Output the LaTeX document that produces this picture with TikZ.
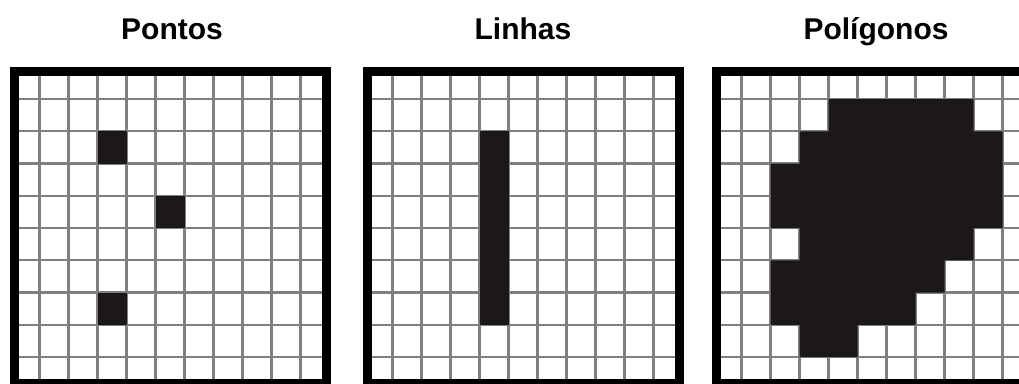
\documentclass[tikz,border=0pt]{standalone}
\usepackage{fontspec}
\setmainfont{Liberation Sans}
\definecolor{cellInk}{RGB}{28,24,23}
\definecolor{gridGray}{RGB}{128,128,128}
\begin{document}
\begin{tikzpicture}[x=0.75pt,y=-0.75pt]
\tikzset{
    rasterTitle/.style={anchor=base,inner sep=0pt,font=\bfseries\fontsize{22.5}{27}\selectfont},
    rasterLine/.style={draw=gridGray,line width=1.7pt},
    rasterFrame/.style={draw=black,line width=6.75pt},
    rasterCell/.style={fill=cellInk},
    rasterGrid/.style={shift={(#1+25.5,99)},x=21.75pt,y=-24.1875pt},
}
\useasboundingbox (0,0) rectangle (1019,383);
\clip (0,0) rectangle (1019,383);

\node[rasterTitle] (tPontos) at (172,39) {Pontos};
\node[rasterTitle] (tLinhas) at (523,39) {Linhas};
\node[rasterTitle] (tPoligonos) at (876,39) {Polígonos};

% grid lines of the three panels
\foreach \L in {14,367,716} {
  \begin{scope}[rasterGrid=\L]
    \foreach \i in {0,...,9} \draw[rasterLine] (\i,-0.75) -- (\i,9);
    \foreach \j in {0,...,8} \draw[rasterLine] (-0.75,\j) -- (9.75,\j);
  \end{scope}
}

% pontos
\begin{scope}[rasterGrid=14]
  \fill[rasterCell] (2,1) rectangle (3,2);
  \fill[rasterCell] (4,3) rectangle (5,4);
  \fill[rasterCell] (2,6) rectangle (3,7);
\end{scope}

% linhas
\begin{scope}[rasterGrid=367]
  \fill[rasterCell] (3,1) rectangle (4,7);
\end{scope}

% poligonos
\begin{scope}[rasterGrid=716]
  \fill[rasterCell] (3,0) -- (8,0) -- (8,1) -- (9,1) -- (9,4) -- (8,4) -- (8,5)
    -- (7,5) -- (7,6) -- (6,6) -- (6,7) -- (4,7) -- (4,8) -- (2,8) -- (2,7)
    -- (1,7) -- (1,5) -- (2,5) -- (2,4) -- (1,4) -- (1,2) -- (2,2) -- (2,1)
    -- (3,1) -- cycle;
\end{scope}

% frames
\foreach \L in {14,367,716}
  \draw[rasterFrame] (\L,71) rectangle (\L+312,383);
\end{tikzpicture}
\end{document}
